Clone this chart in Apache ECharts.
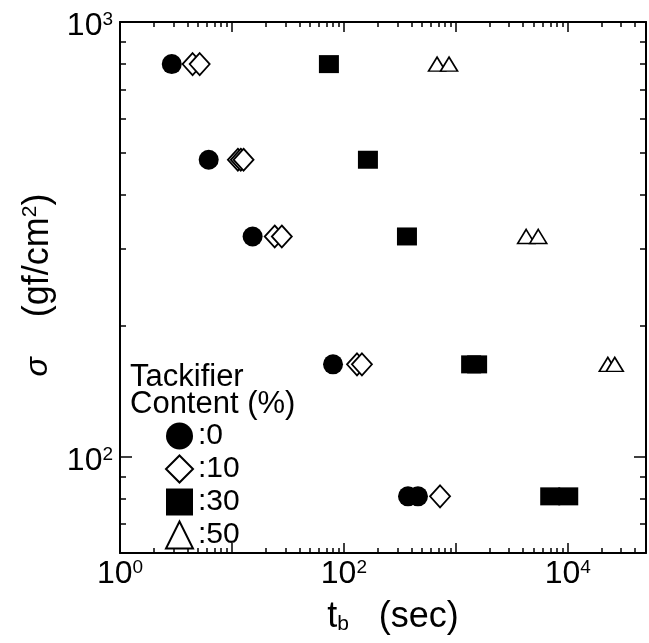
<!DOCTYPE html>
<html>
<head>
<meta charset="utf-8">
<script src="https://cdn.jsdelivr.net/npm/echarts@6/dist/echarts.min.js"></script>
<style>html,body{margin:0;padding:0;background:#fff;}#c{width:649px;height:643px;}</style>
</head>
<body>
<div id="c"></div>
<script>
// ---- data (t_b in sec, sigma in gf/cm^2) ----
const tb0  = [2.9, 6.2, 15.3, 80, 374, 459];
const sg0  = [800, 482, 321, 163, 81, 81];
const tb10 = [4.45, 5.15, 11.3, 12.0, 12.7, 24.1, 27.9, 131, 145, 723];
const sg10 = [800, 800, 482, 482, 482, 321, 321, 163, 163, 81];
const tb30 = [73.5, 164, 366, 1370, 1550, 6970, 10100];
const sg30 = [800, 482, 321, 163, 163, 81, 81];
const tb50 = [680, 870, 4250, 5450, 22800, 26300];
const sg50 = [800, 800, 321, 321, 163, 163];
const seriesNames = [':0', ':10', ':30', ':50'];

const xMajor = [1, 10, 100, 1000, 10000];
const xMinor = [2,3,4,5,6,7,8,9,20,30,40,50,60,70,80,90,200,300,400,500,600,700,800,900,
                2000,3000,4000,5000,6000,7000,8000,9000,20000,30000,40000];
const xLabels = [1, 100, 10000];
const yMajor = [100, 1000];
const yMinor = [70, 80, 90, 200, 300, 400, 500, 600, 700, 800, 900];
const yLabels = [100, 1000];

const X_MIN = 1, X_MAX = 50000, Y_MIN = 60, Y_MAX = 1000;
const FONT = 'Liberation Sans';

function zip(a, b) { return a.map((v, i) => [v, b[i]]); }
function powFmt(v) { return '{b|10}{s|' + Math.round(Math.log10(v)) + '}'; }
const rich = {
  b: { fontSize: 32, fontFamily: FONT, color: '#000', lineHeight: 32 },
  s: { fontSize: 19, fontFamily: FONT, color: '#000', lineHeight: 19, verticalAlign: 'top' }
};
const lineStyle = { color: '#000', width: 2 };

function xAx(grid, pos, ticks, len, labels, withName) {
  const a = {
    type: 'log', gridIndex: grid, position: pos, min: X_MIN, max: X_MAX,
    axisLine: { show: grid === 0, lineStyle: lineStyle },
    axisTick: { show: true, inside: true, length: len, customValues: ticks, lineStyle: { color: '#000', width: 1.5 } },
    axisLabel: { show: !!labels, customValues: labels || undefined, formatter: powFmt, rich: rich, margin: 5 },
    splitLine: { show: false }
  };
  if (withName) {
    a.name = 't{sub|b}   (sec)';
    a.nameLocation = 'middle';
    a.nameGap = 46;
    a.nameTextStyle = { fontSize: 36, fontFamily: FONT, color: '#000', verticalAlign: 'top', padding: [0, 0, 0, 20],
      rich: { sub: { fontSize: 21, fontFamily: FONT, color: '#000', verticalAlign: 'bottom' } } };
  }
  return a;
}
function yAx(grid, pos, ticks, len, labels, withName) {
  const a = {
    type: 'log', gridIndex: grid, position: pos, min: Y_MIN, max: Y_MAX,
    axisLine: { show: grid === 0, lineStyle: lineStyle },
    axisTick: { show: true, inside: true, length: len, customValues: ticks, lineStyle: { color: '#000', width: 1.5 } },
    axisLabel: { show: !!labels, customValues: labels || undefined, formatter: powFmt, rich: rich, margin: 7, padding: [9, 0, 0, 0] },
    splitLine: { show: false }
  };
  if (withName) {
    a.name = '{i|σ}    (gf/cm{s|2})';
    a.nameLocation = 'middle';
    a.nameGap = 64;
    a.nameTextStyle = { fontSize: 36, fontFamily: FONT, color: '#000', padding: [0, 0, 0, 5],
      rich: { i: { fontSize: 32, fontFamily: FONT, fontStyle: 'italic', color: '#000' },
              s: { fontSize: 21, fontFamily: FONT, color: '#000', verticalAlign: 'top' } } };
  }
  return a;
}

const gridRect = { left: 120, right: 3, top: 22, bottom: 90 };
const option = {
  animation: false,
  backgroundColor: '#fff',
  grid: [Object.assign({}, gridRect), Object.assign({}, gridRect)],
  xAxis: [
    xAx(0, 'bottom', xMajor, 10, xLabels, true),
    xAx(0, 'top', xMajor, 10, null, false),
    xAx(1, 'bottom', xMinor, 5, null, false),
    xAx(1, 'top', xMinor, 5, null, false)
  ],
  yAxis: [
    yAx(0, 'left', yMajor, 12, yLabels, true),
    yAx(0, 'right', yMajor, 12, null, false),
    yAx(1, 'left', yMinor, 6, null, false),
    yAx(1, 'right', yMinor, 6, null, false)
  ],
  title: {
    text: 'Tackifier\nContent (%)', left: 130, top: 364, padding: 0,
    textStyle: { fontSize: 31, fontFamily: FONT, fontWeight: 'normal', color: '#000', lineHeight: 27 }
  },
  legend: {
    data: seriesNames, orient: 'vertical', left: 165, top: 421, padding: 0,
    itemWidth: 27, itemHeight: 27, itemGap: 3,
    textStyle: { fontSize: 30, fontFamily: FONT, color: '#000', lineHeight: 27 }
  },
  series: [
    { name: seriesNames[0], type: 'scatter', xAxisIndex: 0, yAxisIndex: 0, symbol: 'circle', symbolSize: 20,
      itemStyle: { color: '#000', opacity: 1 }, data: zip(tb0, sg0) },
    { name: seriesNames[1], type: 'scatter', xAxisIndex: 0, yAxisIndex: 0, symbol: 'diamond', symbolSize: [20, 22],
      itemStyle: { color: '#fff', borderColor: '#000', borderWidth: 1.8, opacity: 1 }, data: zip(tb10, sg10) },
    { name: seriesNames[2], type: 'scatter', xAxisIndex: 0, yAxisIndex: 0, symbol: 'rect', symbolSize: [20, 18],
      itemStyle: { color: '#000', opacity: 1 }, data: zip(tb30, sg30) },
    { name: seriesNames[3], type: 'scatter', xAxisIndex: 0, yAxisIndex: 0, symbol: 'triangle', symbolSize: [17, 14],
      itemStyle: { color: '#fff', borderColor: '#000', borderWidth: 1.6, opacity: 1 }, data: zip(tb50, sg50) }
  ]
};
const chart = echarts.init(document.getElementById('c'), null, { renderer: 'canvas' });
chart.setOption(option);
</script>
</body>
</html>
